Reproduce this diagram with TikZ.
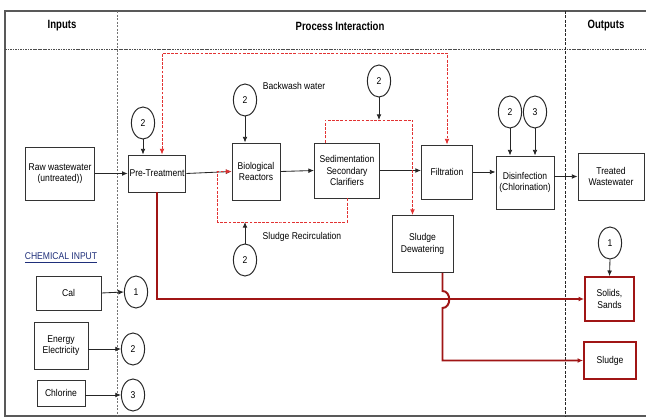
\documentclass[tikz,border=0pt]{standalone}
\usepackage{fontspec}
\setmainfont[FakeStretch=0.87]{Liberation Sans}
\newfontfamily\hdfont[FakeStretch=0.8]{Liberation Sans}
\definecolor{Waste}{HTML}{A01515}
\definecolor{Recyc}{HTML}{E23232}
\definecolor{Chem}{HTML}{1F2F7A}
\usetikzlibrary{arrows.meta,shapes.geometric,calc}

\begin{document}
\begin{tikzpicture}[
  x=0.25mm, y=-0.25mm, font=\fontsize{7}{8}\selectfont, >={Latex[length=4pt,width=3.4pt]},
  b/.style={draw=black!80, line width=0.7pt, align=center, inner sep=1pt, fill=white},
  ob/.style={b, draw=Waste, line width=1.2pt},
  ci/.style={draw=black!85, line width=0.7pt, ellipse, inner sep=0pt,
             minimum width=5.8mm, minimum height=8mm, fill=white},
  ar/.style={->, line width=0.6pt, black!85},
  % red dashed return lines
  rd/.style={line width=0.6pt, Recyc, dash pattern=on 2pt off 1pt},
  % solid waste / sludge lines
  sl/.style={->, line width=1.4pt, Waste},
  hd/.style={font=\hdfont\fontsize{8.5}{10}\selectfont\bfseries},
  lb/.style={inner sep=1pt}]

\useasboundingbox (0,0) rectangle (646,419);

% ================= frame and lanes =================
\draw[black!65, line width=0.8pt] (646,11) -- (5,11) -- (5,416) -- (646,416);
\draw[black!70, line width=0.6pt, dash pattern=on 1.2pt off 0.6pt] (5,49) -- (646,49);
\draw[black!55, line width=0.6pt, dash pattern=on 1.5pt off 1pt] (117,11) -- (117,416);
\draw[black!85, line width=0.6pt, dash pattern=on 2pt off 1.2pt] (565,11) -- (565,416);

\node[hd] (hin) at (62,26) {Inputs};
\node[hd] (hpr) at (340,26) {Process Interaction};
\node[hd] (hout) at (606,26) {Outputs};

% ================= main line =================
\node[b, minimum width=17.25mm, minimum height=13.25mm] (raw) at (60,173.5) {Raw wastewater\\(untreated))};
\node[b, minimum width=14.25mm, minimum height=9.25mm] (pre) at (157,173.5) {Pre-Treatment};
\node[b, minimum width=12mm, minimum height=14.25mm] (bio) at (256,171.5) {Biological\\Reactors};
\node[b, minimum width=16.25mm, minimum height=13.75mm] (sed) at (347,170.5) {Sedimentation\\Secondary\\Clarifiers};
\node[b, minimum width=12.75mm, minimum height=13.5mm] (fil) at (447,172) {Filtration};
\node[b, minimum width=14.5mm, minimum height=13.25mm] (dis) at (525,182.5) {Disinfection\\(Chlorination)};
\node[b, minimum width=16.5mm, minimum height=11.75mm] (tre) at (611,176.5) {Treated\\Wastewater};
\node[b, minimum width=15.25mm, minimum height=14.25mm] (dew) at (422.5,244) {Sludge\\Dewatering};

\draw[ar] (raw.east) -- (pre.west);
\draw[ar] (pre.east) -- (bio.west);
\draw[ar] (bio.east) -- (sed.west);
\draw[ar] (sed.east) -- (sed.east -| fil.west);
\draw[ar] (fil.east) -- (fil.east -| dis.west);
\draw[ar] (dis.east |- tre.west) -- (tre.west);

% energy / chemical dosing points
\node[ci] (epre) at (143,123) {2};
\node[ci] (ebio) at (245,100) {2};
\node[ci] (esed) at (379,81) {2};
\node[ci] (erec) at (245,260) {2};
\node[ci] (edis) at (510,112) {2};
\node[ci] (cdis) at (535,112) {3};
\draw[ar] (epre.south) -- (epre.south |- pre.north);
\draw[ar] (ebio.south) -- (ebio.south |- bio.north);
\draw[ar] (edis.south) -- (edis.south |- dis.north);
\draw[ar] (cdis.south) -- (cdis.south |- dis.north);

% backwash water: filtration <-> pre-treatment
\coordinate (bwtop) at (300,53);
\draw[rd, <->] ($(pre.north)+(5,0)$) |- (bwtop) -| (fil.north);
\node[lb] (bwl) at (294,86) {Backwash water};

% sedimentation to dewatering
\coordinate (sdtop) at (370,120);
\draw[rd, ->] ($(sed.north)+(-22,0)$) |- (sdtop) -| ($(dew.north)+(-10,0)$);
\draw[ar] (esed.south) -- (esed.south |- sdtop);

% sludge recirculation
\coordinate (srbot) at (280,222);
\draw[rd, ->] (sed.south) |- (srbot) -| ($(bio.west)+(-14,0)$) -- (bio.west);
\draw[ar] (erec.north) -- (erec.north |- srbot);
\node[lb] (srl) at (302,237) {Sludge Recirculation};

% ================= chemical inputs =================
\node[lb, text=Chem] (chem) at (61,258) {\underline{CHEMICAL INPUT}};
\node[b, minimum width=16.25mm, minimum height=8.5mm] (cal) at (68.5,293) {Cal};
\node[b, minimum width=13.5mm, minimum height=11.75mm] (ene) at (61,345.5) {Energy\\Electricity};
\node[b, minimum width=12mm, minimum height=6.5mm] (chl) at (61,393) {Chlorine};
\node[ci] (ical) at (136,292) {1};
\node[ci] (iene) at (133,349) {2};
\node[ci] (ichl) at (133,395) {3};
\draw[ar] (cal.east) -- (ical.west);
\draw[ar] (ene.east |- iene.west) -- (iene.west);
\draw[ar] (chl.east |- ichl.west) -- (ichl.west);

% ================= outputs =================
\node[ob, minimum width=12.25mm, minimum height=11mm] (sol) at (609.5,299) {Solids,\\Sands};
\node[ob, minimum width=13mm, minimum height=9.25mm] (slu) at (610,360.5) {Sludge};
\node[ci] (osol) at (610,243) {1};
\draw[ar] (osol.south) -- (sol.north);

\draw[sl] (pre.south) |- (sol.west);
% dewatering line hops over the solids line
\draw[sl] ($(dew.south)+(20,0)$) -- ++(0,18) .. controls +(9,0) and +(9,0) .. ++(0,17) |- (slu.west);
\end{tikzpicture}
\end{document}
